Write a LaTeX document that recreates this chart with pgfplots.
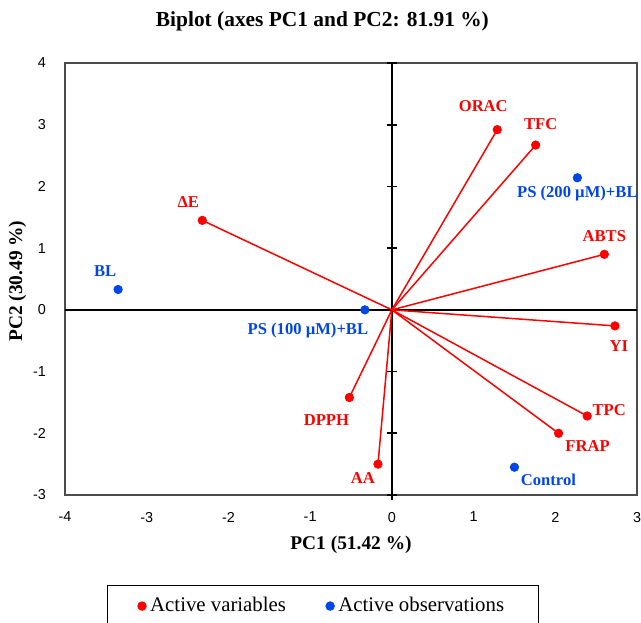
\documentclass[border=0pt]{standalone}
\usepackage{fontspec}
\setmainfont{Liberation Serif}
\newfontfamily\tickfont{Liberation Sans}
\usepackage{pgfplots}
\usepackage{pgfplotstable}
\pgfplotsset{compat=1.18}

\definecolor{varred}{RGB}{255,0,0}
\definecolor{obsblue}{RGB}{0,70,230}

% label offsets dx, dy in pt from the point
\pgfplotstableread[col sep=comma]{
x,y,label,dx,dy
1.29,2.92,ORAC,-7,12
1.76,2.67,TFC,2.5,10.5
2.60,0.90,ABTS,0,9
2.73,-0.26,YI,2,-10
2.39,-1.72,TPC,11,3
2.04,-2.00,FRAP,14.5,-6.5
-2.32,1.45,ΔE,-7,9
-0.52,-1.42,DPPH,-11.5,-11.5
-0.17,-2.50,AA,-7.5,-7
}\variables

\pgfplotstableread[col sep=comma]{
x,y,label,dx,dy
-3.35,0.33,BL,-6.5,9
-0.33,0.00,PS (100 µM)+BL,-28.5,-10.5
2.27,2.14,PS (200 µM)+BL,0,-8
1.50,-2.55,Control,17,-6.5
}\observations

\newcommand{\lab}{\fontsize{8.3}{10}\selectfont\bfseries}

\begin{document}
\begin{tikzpicture}
\begin{axis}[
  name=ax,
  scale only axis,
  width=286pt, height=216pt,
  xmin=-4, xmax=3, ymin=-3, ymax=4,
  xtick={-4,...,3}, ytick={-3,...,4},
  major tick length=0pt,
  axis line style={black!70, line width=0.6pt},
  tick label style={font=\tickfont\fontsize{7.2}{8}\selectfont},
  /pgf/number format/assume math mode=true,
  xticklabel style={yshift=-5pt},
  yticklabel style={xshift=-6pt},
  xlabel={\bfseries PC1 (51.42 \%)},
  ylabel={\bfseries PC2 (30.49 \%)},
  label style={font=\fontsize{9.7}{11}\selectfont},
  xlabel style={at={(axis description cs:0.5,-0.116)}, anchor=center},
  ylabel style={at={(axis description cs:-0.083,0.495)}, anchor=center, rotate=0},
  title={\bfseries Biplot (axes PC1 and PC2: 81.91 \%)},
  title style={font=\fontsize{10.7}{12}\selectfont, at={(axis description cs:0.45,1.068)}, anchor=center},
  clip=false,
  legend columns=2,
  legend style={
    at={(axis description cs:0.451,-0.208)}, anchor=north,
    draw=black, line width=0.5pt,
    font=\fontsize{10.4}{12}\selectfont,
    inner xsep=15pt, inner ysep=4pt,
    /tikz/every even column/.append style={column sep=18pt},
  },
  legend image code/.code={%
    \draw[mark repeat=2,mark phase=2,#1] plot coordinates {(0pt,0pt) (2.5pt,0pt) (5pt,0pt)};},
]

\draw[black, line width=1pt] (axis cs:-4,0) -- (axis cs:3,0);
\draw[black, line width=1pt] (axis cs:0,-3) -- (axis cs:0,4);
\pgfplotsinvokeforeach{-3,-2,-1,1,2,3,4}{%
  \draw[black, line width=0.8pt] ([xshift=-2.6pt]axis cs:0,#1) -- ([xshift=2.6pt]axis cs:0,#1);}
\draw[black, line width=0.8pt] (axis cs:0,-3) -- ([yshift=-2.6pt]axis cs:0,-3);

\addplot[forget plot, varred, line width=0.75pt,
  quiver={u=\thisrow{x}, v=\thisrow{y}}]
  table[x expr=0, y expr=0] {\variables};

\addplot[only marks, mark=*, mark size=2.1pt, color=varred,
  point meta=explicit symbolic,
  nodes near coords,
  visualization depends on={\thisrow{dx}\as\dx},
  visualization depends on={\thisrow{dy}\as\dy},
  every node near coord/.style={anchor=center, inner sep=0pt,
    xshift=\dx pt, yshift=\dy pt, font=\lab, text=varred}]
  table[x=x, y=y, meta=label] {\variables};
\addlegendentry{Active variables}

\addplot[only marks, mark=*, mark size=2.1pt, color=obsblue,
  point meta=explicit symbolic,
  nodes near coords,
  visualization depends on={\thisrow{dx}\as\dx},
  visualization depends on={\thisrow{dy}\as\dy},
  every node near coord/.style={anchor=center, inner sep=0pt,
    xshift=\dx pt, yshift=\dy pt, font=\lab, text=obsblue}]
  table[x=x, y=y, meta=label] {\observations};
\addlegendentry{Active observations}

\end{axis}
\pgfresetboundingbox
\path ([shift={(-32.5pt,-64pt)}]ax.south west) rectangle ([shift={(2pt,31.5pt)}]ax.north east);
\end{tikzpicture}
\end{document}
